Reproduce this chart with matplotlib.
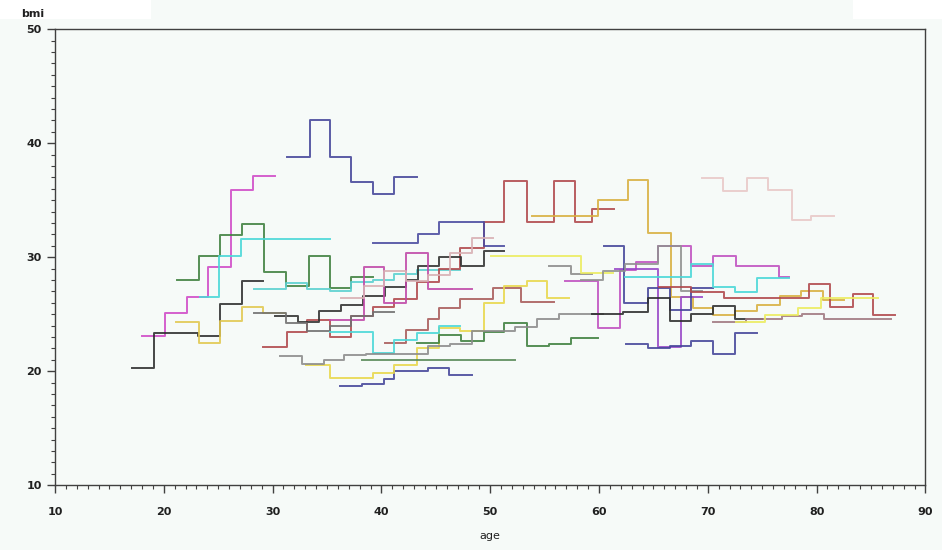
import matplotlib
matplotlib.use("Agg")
import matplotlib.pyplot as plt
from matplotlib.ticker import MultipleLocator
from matplotlib.patches import Rectangle

# each subject: change-point ages (last entry is the final age) and bmi per interval
navy_a_age = [31.3, 33.4, 35.3, 37.2, 39.2, 41.2, 43.3]
navy_a_bmi = [38.8, 42.0, 38.8, 36.6, 35.5, 37.0]
magenta_a_age = [18.0, 20.1, 22.1, 24.1, 26.2, 28.2, 30.2]
magenta_a_bmi = [23.1, 25.1, 26.5, 29.1, 35.9, 37.1]
green_a_age = [21.2, 23.2, 25.2, 27.2, 29.2, 31.2, 33.3, 35.3, 37.2, 39.2]
green_a_bmi = [28.0, 30.1, 31.9, 32.9, 28.7, 27.5, 30.1, 27.3, 28.3]
cyan_a_age = [23.3, 25.1, 27.1, 35.3]
cyan_a_bmi = [26.5, 30.1, 31.6]
black_a_age = [17.1, 19.1, 23.1, 25.2, 27.2, 29.1]
black_a_bmi = [20.3, 23.3, 23.1, 25.9, 27.9]
yellow_a_age = [21.1, 23.2, 25.2, 27.2, 29.1, 31.1]
yellow_a_bmi = [24.3, 22.5, 24.4, 25.6, 25.1]
cyan_b_age = [28.3, 31.2, 33.2, 35.3, 37.2, 39.2, 41.2, 43.3, 47.2]
cyan_b_bmi = [27.2, 27.7, 27.2, 27.0, 27.8, 28.0, 28.5, 28.9]
red_a_age = [29.1, 31.3, 33.2, 35.3, 37.2, 39.2, 41.2, 43.3, 45.3, 47.2, 49.4,
             51.3, 53.4, 55.9, 57.8, 59.4, 61.4]
red_a_bmi = [22.1, 23.4, 24.5, 23.0, 24.8, 25.6, 26.3, 27.8, 29.0, 30.8, 33.1,
             36.7, 33.1, 36.7, 33.1, 34.2]
red_c_age = [40.3, 42.3, 44.3, 45.3, 47.2, 50.3, 52.8, 55.9]
red_c_bmi = [22.5, 23.6, 24.6, 25.5, 26.3, 27.3, 26.1]
black_c_age = [30.2, 32.3, 34.3, 36.3, 38.3, 40.3, 42.3, 43.4, 45.3, 47.3, 49.4, 51.3]
black_c_bmi = [24.8, 24.3, 25.3, 25.8, 26.6, 27.4, 28.0, 29.2, 30.0, 29.2, 30.5]
navy_b_age = [39.2, 43.4, 45.3, 49.4, 51.3]
navy_b_bmi = [31.2, 32.0, 33.1, 31.0]
magenta_c_age = [35.3, 38.4, 40.2, 42.3, 44.3, 48.3]
magenta_c_bmi = [24.5, 29.1, 26.0, 30.4, 27.2]
pink_a_age = [36.3, 38.4, 40.2, 42.3, 44.3, 46.3, 48.3, 50.3]
pink_a_bmi = [26.4, 27.5, 28.8, 27.9, 28.4, 30.4, 31.7]
slate_a_age = [28.3, 31.2, 33.2, 35.3, 37.2, 39.2, 41.2]
slate_a_bmi = [25.1, 24.2, 23.5, 24.0, 24.8, 25.2]
navy_c_age = [36.2, 38.2, 40.2, 41.2, 44.3, 46.2, 48.3]
navy_c_bmi = [18.7, 18.9, 19.3, 20.0, 20.3, 19.7]
yellow_c_age = [33.1, 35.3, 39.2, 41.2, 43.3, 45.3, 47.2, 49.4, 51.3, 53.4, 55.2, 57.2]
yellow_c_bmi = [20.5, 19.4, 19.8, 20.5, 22.0, 23.8, 23.5, 26.0, 27.5, 27.9, 26.4]
cyan_c_age = [35.3, 39.2, 41.2, 43.3, 45.3, 47.2]
cyan_c_bmi = [23.4, 21.6, 22.7, 23.3, 24.0]
green_b_age = [43.3, 45.3, 47.3, 49.4, 51.3, 53.4, 55.4, 57.4, 59.9]
green_b_bmi = [22.5, 23.2, 22.6, 23.4, 24.2, 22.2, 22.4, 22.9]
green_c_age = [38.2, 52.3]
green_c_bmi = [21.0]
gray_a_age = [30.7, 32.7, 34.7, 36.6, 38.6, 44.3, 46.3, 48.3, 52.3, 54.3, 56.3, 60.4]
gray_a_bmi = [21.3, 20.6, 21.0, 21.4, 21.5, 22.2, 22.4, 23.5, 23.9, 24.6, 25.0]
gray_d_age = [55.4, 57.4, 59.4]
gray_d_bmi = [29.2, 28.5]
yellow_d_age = [50.1, 58.3, 61.3]
yellow_d_bmi = [30.1, 28.6]
orange_a_age = [53.8, 59.9, 62.7, 64.5, 66.6, 68.6, 70.5, 72.5, 74.5, 76.6, 78.6, 80.6, 82.5]
orange_a_bmi = [33.6, 35.0, 36.8, 32.1, 26.5, 25.5, 24.9, 25.3, 25.8, 26.6, 27.0, 26.2]
pink_b_age = [69.5, 71.4, 73.6, 75.5, 77.7, 79.5, 81.6]
pink_b_bmi = [36.9, 35.8, 36.9, 35.9, 33.3, 33.6]
magenta_b_age = [56.9, 59.9, 61.9, 63.4, 65.4, 68.5, 70.5, 72.6, 76.5, 77.5]
magenta_b_bmi = [27.9, 23.8, 28.9, 29.6, 31.0, 29.2, 30.1, 29.2, 28.3]
purple_a_age = [61.5, 65.4, 67.5, 69.5]
purple_a_bmi = [29.0, 22.1, 26.5]
navy_d_age = [60.5, 62.3, 64.5, 66.5, 68.5, 70.5]
navy_d_bmi = [31.0, 26.0, 27.3, 25.4, 27.3]
navy_e_age = [62.5, 64.5, 66.5, 68.5, 70.5, 72.5, 74.5]
navy_e_bmi = [22.4, 22.0, 22.2, 22.6, 21.5, 23.3]
black_b_age = [59.4, 62.2, 64.5, 66.5, 68.5, 70.5, 72.5, 75.0]
black_b_bmi = [25.0, 25.2, 26.4, 24.4, 25.0, 25.7, 24.6]
gray_c_age = [58.3, 60.4, 62.4, 65.4, 67.5, 69.5]
gray_c_bmi = [28.0, 28.8, 29.4, 31.0, 27.0]
cyan_d_age = [62.4, 68.5, 70.5, 72.5, 74.5, 76.3, 77.5]
cyan_d_bmi = [28.3, 29.4, 27.4, 26.9, 28.2, 28.2]
red_b_age = [65.5, 68.5, 71.5, 75.2, 79.3, 81.2, 83.3, 85.2, 87.2]
red_b_bmi = [27.4, 26.9, 26.4, 26.4, 27.6, 25.6, 26.8, 24.9]
mauve_a_age = [70.5, 73.5, 76.8, 78.7, 80.7, 86.8]
mauve_a_bmi = [24.3, 24.6, 24.8, 25.0, 24.6]
yellow_b_age = [72.6, 75.3, 78.3, 80.4, 85.6]
yellow_b_bmi = [24.3, 24.9, 25.5, 26.4]

subjects = [
    (navy_a_age, navy_a_bmi, "#45459a"),
    (magenta_a_age, magenta_a_bmi, "#d04ac8"),
    (green_a_age, green_a_bmi, "#3f803f"),
    (cyan_a_age, cyan_a_bmi, "#4ad8d8"),
    (black_a_age, black_a_bmi, "#2e2e2e"),
    (yellow_a_age, yellow_a_bmi, "#e2c850"),
    (cyan_b_age, cyan_b_bmi, "#5ad0d0"),
    (red_a_age, red_a_bmi, "#b0484c"),
    (red_c_age, red_c_bmi, "#a85a5a"),
    (black_c_age, black_c_bmi, "#303030"),
    (navy_b_age, navy_b_bmi, "#4a4aa0"),
    (magenta_c_age, magenta_c_bmi, "#c048a8"),
    (pink_a_age, pink_a_bmi, "#d8b0b4"),
    (slate_a_age, slate_a_bmi, "#707070"),
    (navy_c_age, navy_c_bmi, "#45459a"),
    (yellow_c_age, yellow_c_bmi, "#e8d84c"),
    (cyan_c_age, cyan_c_bmi, "#4ad8d8"),
    (green_b_age, green_b_bmi, "#3f803f"),
    (green_c_age, green_c_bmi, "#5a8a5a"),
    (gray_a_age, gray_a_bmi, "#8c8c8c"),
    (gray_d_age, gray_d_bmi, "#8c8c8c"),
    (yellow_d_age, yellow_d_bmi, "#ecec60"),
    (orange_a_age, orange_a_bmi, "#d8b040"),
    (pink_b_age, pink_b_bmi, "#e8c8c8"),
    (magenta_b_age, magenta_b_bmi, "#c050c0"),
    (purple_a_age, purple_a_bmi, "#9848c8"),
    (navy_d_age, navy_d_bmi, "#45459a"),
    (navy_e_age, navy_e_bmi, "#45459a"),
    (black_b_age, black_b_bmi, "#2e2e2e"),
    (gray_c_age, gray_c_bmi, "#909090"),
    (cyan_d_age, cyan_d_bmi, "#4ad8d8"),
    (red_b_age, red_b_bmi, "#b0484c"),
    (mauve_a_age, mauve_a_bmi, "#a07880"),
    (yellow_b_age, yellow_b_bmi, "#ecec60"),
]

bg = "#f6faf8"
fig = plt.figure(figsize=(9.42, 5.5), dpi=100, facecolor=bg)
fig.patches.append(Rectangle((0, 0.965), 0.16, 0.035, transform=fig.transFigure,
                             facecolor="white", edgecolor="none", zorder=0))
fig.patches.append(Rectangle((0.905, 0.965), 0.095, 0.035, transform=fig.transFigure,
                             facecolor="white", edgecolor="none", zorder=0))
ax = fig.add_axes([0.0584, 0.118, 0.924, 0.829])
ax.set_facecolor(bg)

for ages, bmis, col in subjects:
    # steps-post: repeat the last value so the final interval is drawn
    ax.step(ages, bmis + bmis[-1:], where="post", color=col, lw=1.4, alpha=0.88)

ax.set_xlim(10, 90)
ax.set_ylim(10, 50)
ax.xaxis.set_major_locator(MultipleLocator(10))
ax.xaxis.set_minor_locator(MultipleLocator(1))
ax.yaxis.set_major_locator(MultipleLocator(10))
ax.yaxis.set_minor_locator(MultipleLocator(1))
ax.tick_params(which="major", length=6, width=1, color="#404040", labelsize=8)
ax.tick_params(which="minor", length=3, width=0.8, color="#404040")
ax.tick_params(axis="x", pad=10)
for lab in ax.get_xticklabels() + ax.get_yticklabels():
    lab.set_fontweight("bold")
    lab.set_color("#202020")
for sp in ax.spines.values():
    sp.set_color("#404040")
    sp.set_linewidth(1.0)

ax.set_xlabel("age", fontsize=8, color="#202020", labelpad=10)
fig.text(0.022, 0.975, "bmi", fontsize=8, fontweight="bold", color="#202020",
         va="center", ha="left")

fig.savefig("out.png", dpi=100, facecolor=bg)
